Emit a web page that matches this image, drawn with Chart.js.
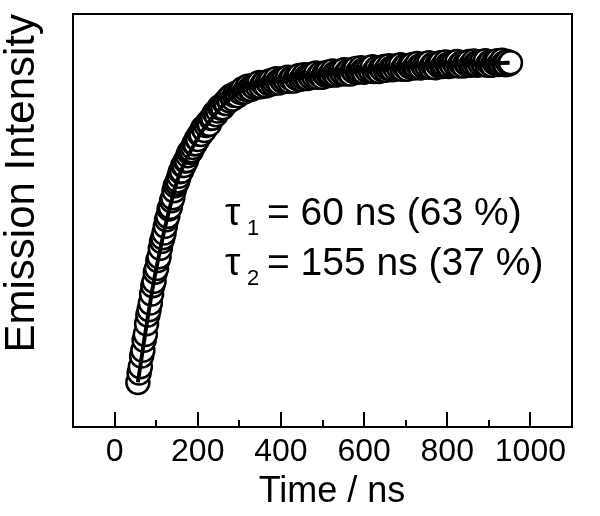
<!DOCTYPE html>
<html><head><meta charset="utf-8">
<script src="https://cdn.jsdelivr.net/npm/chart.js@4.4.0/dist/chart.umd.min.js"></script>
<style>html,body{margin:0;padding:0;background:#fff;}</style>
</head><body>
<canvas id="c" width="600" height="516"></canvas>
<script>
// ---- data ----
const timeNs = [56,59,62,65,68,71,74,77,80,83,86,89,92,95,98,101,104,107,110,113,116,119,122,125,128,131,134,137,140,143,146,149,152,155,158,161,164,167,170,173,176,179,182,185,188,191,194,197,200,
204,208,212,216,220,224,228,232,236,240,
244,248,252,256,260,264,268,272,276,280,
284,288,292,296,300,304,308,312,316,320,
324,328,332,336,340,344,348,352,356,360,
364,368,372,376,380,384,388,392,396,400,
404,408,412,416,420,424,428,432,436,440,
444,448,452,456,460,464,468,472,476,480,
484,488,492,496,500,504,508,512,516,520,
524,528,532,536,540,544,548,552,556,560,
564,568,572,576,580,584,588,592,596,600,
604,608,612,616,620,624,628,632,636,640,
644,648,652,656,660,664,668,672,676,680,
684,688,692,696,700,704,708,712,716,720,
724,728,732,736,740,744,748,752,756,760,
764,768,772,776,780,784,788,792,796,800,
804,808,812,816,820,824,828,832,836,840,
844,848,852,856,860,864,868,872,876,880,
884,888,892,896,900,904,908,912,916,920,
924,928,932,936,940,944,948,952];
const intensity = [0.108,0.131,0.146,0.172,0.186,0.210,0.224,0.250,0.271,0.284,0.300,0.322,0.342,0.353,0.375,0.384,0.403,0.412,0.433,0.449,0.458,0.470,0.486,0.502,0.510,0.528,0.532,0.548,0.555,0.572,0.584,0.590,0.596,0.607,0.618,0.620,0.633,0.633,0.644,0.645,0.657,0.665,0.666,0.669,0.677,0.686,0.686,0.698,0.696,
0.709,0.708,0.724,0.718,0.730,0.737,0.733,0.747,0.748,0.760,
0.756,0.765,0.775,0.772,0.773,0.785,0.783,0.794,0.790,0.802,
0.794,0.803,0.808,0.802,0.812,0.810,0.819,0.811,0.817,0.825,
0.819,0.817,0.826,0.822,0.830,0.824,0.834,0.824,0.831,0.834,
0.826,0.835,0.831,0.839,0.831,0.836,0.843,0.836,0.833,0.842,
0.837,0.844,0.838,0.847,0.837,0.844,0.846,0.838,0.846,0.843,
0.851,0.842,0.847,0.853,0.847,0.844,0.852,0.847,0.854,0.848,
0.857,0.847,0.853,0.856,0.847,0.855,0.852,0.859,0.851,0.855,
0.862,0.855,0.852,0.860,0.855,0.862,0.856,0.865,0.855,0.861,
0.864,0.855,0.864,0.860,0.868,0.859,0.863,0.870,0.863,0.859,
0.868,0.862,0.869,0.862,0.872,0.861,0.867,0.870,0.861,0.869,
0.865,0.873,0.864,0.869,0.875,0.868,0.865,0.873,0.867,0.875,
0.868,0.877,0.866,0.873,0.875,0.866,0.874,0.871,0.878,0.869,
0.873,0.880,0.873,0.869,0.878,0.872,0.879,0.872,0.882,0.871,
0.877,0.879,0.870,0.879,0.875,0.882,0.873,0.877,0.884,0.877,
0.873,0.881,0.875,0.883,0.876,0.885,0.874,0.880,0.882,0.874,
0.882,0.878,0.885,0.876,0.880,0.886,0.880,0.876,0.884,0.878,
0.885,0.878,0.887,0.876,0.882,0.884,0.876,0.884,0.880,0.887,
0.878,0.882,0.888,0.881,0.877,0.885,0.879,0.882];
const fitTime = [56,60,70,80,90,100,110,120,130,140,150,160,170,180,190,200,210,220,230,240,250,260,270,280,290,300,320,340,360,380,400,420,440,460,480,500,520,550,580,610,640,680,720,760,800,850,900,950];
const fitIntensity = [0.108,0.135,0.202,0.267,0.328,0.382,0.431,0.478,0.520,0.559,0.594,0.620,0.643,0.663,0.681,0.699,0.715,0.729,0.742,0.755,0.767,0.778,0.788,0.796,0.804,0.810,0.819,0.826,0.831,0.835,0.839,0.842,0.845,0.848,0.851,0.853,0.855,0.859,0.863,0.865,0.867,0.871,0.873,0.876,0.878,0.880,0.881,0.882];
const xMajorTicks = [0,200,400,600,800,1000];
const xMinorTicks = [100,300,500,700,900];
const xTitle = 'Time / ns';
const yTitle = 'Emission Intensity';
const lifetimeLines = [
  {symbol:'τ', sub:'1', text:'= 60 ns (63 %)'},
  {symbol:'τ', sub:'2', text:'= 155 ns (37 %)'}
];

const FONT = '"Liberation Sans", Arial, sans-serif';

const framePlugin = {
  id: 'frame',
  afterDatasetsDraw(chart) {
    const {ctx, chartArea: a, scales: {x}} = chart;
    ctx.save();
    ctx.strokeStyle = '#000';
    ctx.lineWidth = 2;
    ctx.strokeRect(a.left, a.top, a.right - a.left, a.bottom - a.top);
    ctx.beginPath();
    xMajorTicks.forEach(v => { const p = Math.round(x.getPixelForValue(v)); ctx.moveTo(p, a.bottom); ctx.lineTo(p, a.bottom - 15); });
    xMinorTicks.forEach(v => { const p = Math.round(x.getPixelForValue(v)); ctx.moveTo(p, a.bottom); ctx.lineTo(p, a.bottom - 7); });
    ctx.stroke();
    ctx.fillStyle = '#000';
    // x axis title
    ctx.font = '36px ' + FONT;
    ctx.textAlign = 'center';
    ctx.textBaseline = 'alphabetic';
    ctx.fillText(xTitle, a.left + 259, 502);
    // y axis title
    ctx.save();
    ctx.translate(34, a.top);
    ctx.rotate(-Math.PI / 2);
    ctx.font = '42px ' + FONT;
    ctx.textAlign = 'right';
    ctx.fillText(yTitle, 0, 0);
    ctx.restore();
    // lifetime annotation
    ctx.textAlign = 'left';
    const x0 = a.left + 152;
    lifetimeLines.forEach((ln, i) => {
      const y = a.top + 211 + i * 50;
      ctx.font = '39px ' + FONT;
      ctx.fillText(ln.symbol, x0, y);
      ctx.font = '22px ' + FONT;
      ctx.fillText(ln.sub, x0 + 22, y + 10);
      ctx.font = '39px ' + FONT;
      ctx.fillText(ln.text, x0 + 42, y);
    });
    ctx.restore();
  }
};

new Chart(document.getElementById('c'), {
  type: 'scatter',
  data: {
    datasets: [
      {
        label: 'fit',
        data: fitTime.map((t, i) => ({x: t, y: fitIntensity[i]})),
        showLine: true,
        borderColor: '#000',
        borderWidth: 4,
        pointRadius: 0,
        cubicInterpolationMode: 'monotone',
        order: 0
      },
      {
        label: 'data',
        data: timeNs.map((t, i) => ({x: t, y: intensity[i]})),
        showLine: false,
        pointRadius: 11.5,
        pointBorderWidth: 2.5,
        pointBorderColor: '#000',
        pointBackgroundColor: '#fff',
        order: 1
      }
    ]
  },
  options: {
    responsive: false,
    devicePixelRatio: 1,
    animation: false,
    layout: {padding: {top: 12, right: 28, left: 0, bottom: 0}},
    plugins: {legend: {display: false}, tooltip: {enabled: false}},
    scales: {
      x: {
        type: 'linear', min: -100, max: 1100,
        afterBuildTicks: s => { s.ticks = xMajorTicks.map(v => ({value: v})); },
        afterFit: s => { s.height = 89; },
        grid: {display: false, drawTicks: false},
        border: {display: false},
        ticks: {color: '#000', font: {family: FONT, size: 32}, padding: 6, maxRotation: 0, autoSkip: false,
                callback: v => String(v)},
        title: {display: false}
      },
      y: {
        type: 'linear', min: 0, max: 1,
        afterFit: s => { s.width = 73; },
        grid: {display: false, drawTicks: false},
        border: {display: false},
        ticks: {display: false},
        title: {display: false}
      }
    }
  },
  plugins: [framePlugin]
});
</script>
</body></html>
